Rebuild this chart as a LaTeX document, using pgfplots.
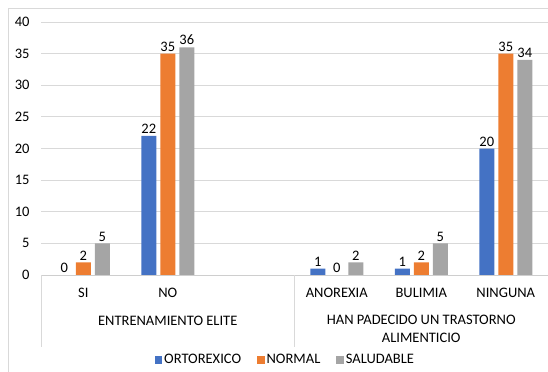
\documentclass[border=0pt]{standalone}
\usepackage{pgfplots}
\pgfplotsset{compat=1.18}
\usepackage{fontspec}
\setmainfont{Carlito}
\definecolor{cblue}{HTML}{4472C4}
\definecolor{corange}{HTML}{ED7D31}
\definecolor{cgray}{HTML}{A5A5A5}
\definecolor{gridc}{HTML}{D9D9D9}
\newcommand{\cf}{\fontsize{14.5bp}{17bp}\selectfont}
\begin{document}
\begin{tikzpicture}[x=1bp,y=1bp]
\useasboundingbox (0,0) rectangle (548,371);
\draw[gridc,line width=0.8bp] (8,-5) rectangle (560,363);
\begin{axis}[
  at={(41bp,96bp)}, anchor=south west,
  scale only axis, width=507bp, height=253bp,
  xmin=-0.5, xmax=5.5, ymin=0, ymax=40,
  enlarge x limits=false, enlarge y limits=false,
  ytick={0,5,...,40},
  xtick={0,1,3,4,5},
  xticklabels={SI,NO,ANOREXIA,BULIMIA,NINGUNA},
  axis line style={draw=none},
  tick style={draw=none},
  ymajorgrids, grid style={gridc,line width=0.8bp},
  ybar=4bp, bar width=15bp,
  /pgf/number format/assume math mode=true,
  tick label style={font=\cf, text=black},
  yticklabel style={xshift=-8bp},
  xticklabel style={yshift=-5bp},
  nodes near coords,
  every node near coord/.append style={font=\cf, text=black, inner sep=2bp},
  clip=false,
  legend columns=3,
  legend style={draw=none, at={(0.482,-0.335)}, anchor=center,
    font=\cf, nodes={font=\cf, inner sep=2bp},
    /tikz/every even column/.append style={column sep=14bp}},
  legend image code/.code={\fill[#1] (0bp,-3.8bp) rectangle (7.5bp,3.7bp);},
]
\addplot[fill=cblue, draw=none] coordinates {(0,0) (1,22) (3,1) (4,1) (5,20)};
\addplot[fill=corange, draw=none] coordinates {(0,2) (1,35) (3,0) (4,2) (5,35)};
\addplot[fill=cgray, draw=none] coordinates {(0,5) (1,36) (3,2) (4,5) (5,34)};
\legend{ORTOREXICO,NORMAL,SALUDABLE}
\draw[gridc!80!black!60, line width=0.8bp] (axis cs:-0.5,0) -- (axis cs:5.5,0);
\draw[gridc, line width=0.8bp] (axis cs:-0.5,0) -- ([yshift=-72bp]axis cs:-0.5,0);
\draw[gridc, line width=0.8bp] (axis cs:2.5,0) -- ([yshift=-72bp]axis cs:2.5,0);
\draw[gridc, line width=0.8bp] (axis cs:5.5,0) -- ([yshift=-72bp]axis cs:5.5,0);
\node[font=\cf, anchor=center] at ([yshift=-46bp]axis cs:1,0) {ENTRENAMIENTO ELITE};
\node[font=\fontsize{14.5bp}{18bp}\selectfont, anchor=north, align=center, inner sep=0pt] at ([yshift=-40bp]axis cs:4,0) {HAN PADECIDO UN TRASTORNO\\ALIMENTICIO};
\end{axis}
\end{tikzpicture}
\end{document}
